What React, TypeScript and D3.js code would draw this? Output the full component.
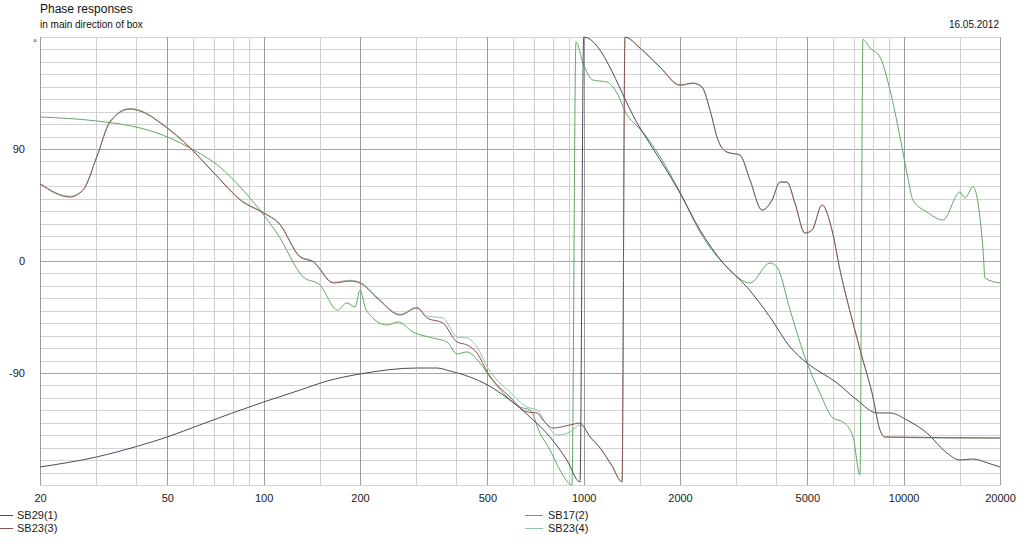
import { useRef, useEffect } from 'react';
import * as d3 from 'd3';

type Pt = [number, number]; // [frequency Hz, phase degrees]

const xTickLabels = [20, 50, 100, 200, 500, 1000, 2000, 5000, 10000, 20000];
const xGridFreqs = [
  20, 30, 40, 50, 60, 70, 80, 90, 100, 150, 200, 300, 400, 500, 600, 700, 800, 900,
  1000, 1500, 2000, 3000, 4000, 5000, 6000, 7000, 8000, 9000, 10000, 15000, 20000,
];
const yTickLabels = [90, 0, -90];

const sb29: Pt[] = [
  [20, -165.5], [30, -157.5], [40.5, -148.7], [50, -141.4], [63, -131.8], [100, -113.3],
  [130, -103.7], [158, -96.4], [200, -90.8], [300, -86], [348, -86], [382, -88.4],
  [441, -93.2], [500, -99.6], [588, -111.7], [680, -125.4], [785, -141.4], [886, -159.9],
  [974, -177.6], [1000, 180], [1500, 106.9], [2000, 54.6], [2309, 24.9], [2726, -1.6],
  [3237, -20.9], [3821, -45], [4415, -69.1], [4990, -82], [6189, -98], [7148, -111.7],
  [8254, -122.1], [9064, -122.1], [10240, -127.8], [11820, -138.2], [13650, -154.3],
  [14990, -159.9], [16470, -159.1], [18290, -162.3], [20000, -165.5],
];

const sb17: Pt[] = [
  [20, 115.7], [30.1, 112.5], [41.1, 106.9], [51, 98.8], [58.9, 90.8], [73, 75.5],
  [86.1, 57.1], [100, 37], [110, 22.5], [133, -12.9], [150, -19.3], [170, -39.4],
  [182, -33.7], [193, -37], [200, -23.3], [209, -39.4], [243, -51.4], [263, -49],
  [293, -57.1], [338, -61.9], [374, -65.1], [402, -74.7], [432, -73.1], [474, -82],
  [510, -93.2], [576, -109.3], [632, -117.3], [680, -119.7], [730, -138.2], [785, -151.9],
  [843, -167.9], [919, -180], [946, 176], [995, 159.1], [1069, 145.4], [1182, 143.8],
  [1271, 135], [1366, 117.3], [1426, 111.7], [1500, 106.1], [2000, 55.4], [2309, 23.3],
  [2805, -4.8], [3310, -17.7], [3821, -1.6], [4018, -4.8], [4415, -39.4], [4990, -82],
  [5477, -106.1], [6012, -126.2], [6464, -129.4], [6946, -141.4], [7303, -172],
  [7460, 178], [7852, 171.2], [8434, 163.9], [9064, 137.4], [9740, 99.6], [10240, 70.7],
  [10690, 49], [11820, 39.4], [13270, 32.9], [14990, 55.4], [15530, 50.6], [16470, 59.5],
  [16950, 51.4], [17700, 8.8], [17960, -13.7], [20000, -17.7],
];

const sb23a: Pt[] = [
  [20, 61.9], [24.8, 51.4], [27.3, 57.1], [30.1, 83.6], [33.1, 111.7], [38.2, 122.1],
  [41.1, 120.5], [48.5, 109.3], [58.9, 90.8], [69.4, 71.5], [86.1, 47.4], [100, 38.6],
  [112, 29.7], [130, 3.2], [143, -0.8], [165, -17.7], [186, -16.1], [200, -17.7],
  [226, -29.7], [267, -43.4], [301, -37.8], [324, -45.8], [363, -49.8], [402, -65.1],
  [432, -67.5], [464, -73.9], [502, -90], [588, -109.3], [665, -121.3], [715, -122.1],
  [746, -127.8], [802, -134.2], [906, -131.8], [974, -130.2], [1047, -141.4], [1125, -150.3],
  [1226, -164.7], [1318, -177.6], [1346, 180], [1500, 171.2], [1732, 155.9], [2000, 141.4],
  [2196, 143], [2344, 139.8], [2482, 121.3], [2629, 97.2], [2805, 87.6], [3080, 85.2],
  [3310, 65.1], [3609, 41], [3879, 49], [4107, 63.5], [4317, 63.5], [4574, 46.6],
  [4913, 22.5], [5171, 24.9], [5558, 45], [5970, 24.9], [6325, -7.2], [6946, -49.8],
  [7460, -79.6], [7967, -106.1], [8434, -135.8], [8743, -141.4], [20000, -142.2],
];

const sb23b: Pt[] = [
  [20, 62.5], [24.8, 52], [27.3, 57.5], [30.1, 84.2], [33.1, 112.3], [38.2, 122.6],
  [41.1, 121], [48.5, 109.8], [58.9, 91.2], [69.4, 72], [86.1, 47.9], [100, 39],
  [112, 30.2], [130, 3.8], [143, -0.2], [165, -17], [186, -15.5], [200, -17],
  [226, -29], [267, -42.8], [301, -37], [324, -44.2], [363, -45.8], [402, -61.1],
  [432, -61.9], [464, -69.1], [502, -86], [588, -105.3], [665, -117.3], [715, -119.7],
  [768, -131.8], [826, -139.8], [906, -137.4], [974, -131.8], [1047, -141], [1125, -150],
  [1226, -164.3], [1318, -177.3], [1346, 179.6], [1500, 170.8], [1732, 155.5], [2000, 141],
  [2196, 142.6], [2344, 139.4], [2482, 121], [2629, 97], [2805, 87.3], [3080, 84.9],
  [3310, 64.8], [3609, 40.7], [3879, 48.7], [4107, 63.2], [4317, 63.2], [4574, 46.3],
  [4913, 22.2], [5171, 24.6], [5558, 44.7], [5970, 24.6], [6325, -7.5], [6946, -50.1],
  [7460, -79.9], [7967, -106.4], [8434, -136.1], [8743, -141.7], [20000, -142.5],
];

const seriesNames = ['SB29(1)', 'SB23(3)', 'SB17(2)', 'SB23(4)'];
const seriesColors = ['#4b4b5c', '#8c4f4f', '#62a862', '#8fc7a6'];

export default function App() {
  const d3Container = useRef<SVGSVGElement>(null);

  useEffect(() => {
    if (!d3Container.current) return;
    const svg = d3.select(d3Container.current);
    svg.selectAll('*').remove();

    const width = 1024;
    const height = 543;
    const margin = { top: 37, right: 24, bottom: 58, left: 40 };
    const font = 'Arial, "Liberation Sans", sans-serif';

    const x = d3.scaleLog().domain([20, 20000]).range([margin.left, width - margin.right]);
    const y = d3.scaleLinear().domain([-180, 180]).range([height - margin.bottom, margin.top]);

    // grid
    const grid = svg.append('g').attr('shape-rendering', 'crispEdges');
    grid.selectAll('line.h')
      .data(d3.range(-180, 181, 10))
      .join('line')
      .attr('x1', margin.left)
      .attr('x2', width - margin.right)
      .attr('y1', d => Math.round(y(d)) + 0.5)
      .attr('y2', d => Math.round(y(d)) + 0.5)
      .style('stroke', d => (d % 90 === 0 && Math.abs(d) !== 180 ? '#a4a4a4' : '#d3d3d3'));

    grid.selectAll('line.v')
      .data(xGridFreqs)
      .join('line')
      .attr('x1', d => Math.round(x(d)) + 0.5)
      .attr('x2', d => Math.round(x(d)) + 0.5)
      .attr('y1', margin.top)
      .attr('y2', height - margin.bottom)
      .style('stroke', d => (xTickLabels.includes(d) ? '#9c9c9c' : '#d0d0d0'));

    // curves
    const line = d3.line<Pt>()
      .x(d => x(d[0]))
      .y(d => y(d[1]))
      .curve(d3.curveMonotoneX);

    const drawOrder: [Pt[], string][] = [
      [sb23b, seriesColors[3]],
      [sb17, seriesColors[2]],
      [sb29, seriesColors[0]],
      [sb23a, seriesColors[1]],
    ];
    drawOrder.forEach(([data, color]) => {
      svg.append('path')
        .datum(data)
        .attr('d', line)
        .style('fill', 'none')
        .style('stroke', color)
        .style('stroke-width', 1);
    });

    // axes
    const xAxis = svg.append('g')
      .attr('transform', `translate(0,${y(-180)})`)
      .call(d3.axisBottom(x).tickValues(xTickLabels).tickFormat(d => String(d)).tickSize(0).tickPadding(9));
    xAxis.select('.domain').remove();
    xAxis.selectAll('text').style('font-size', '11px').style('font-family', font).style('fill', '#1a1a1a');

    const yAxis = svg.append('g')
      .attr('transform', `translate(${margin.left},0)`)
      .call(d3.axisLeft(y).tickValues(yTickLabels).tickFormat(d => String(d)).tickSize(0).tickPadding(15));
    yAxis.select('.domain').remove();
    yAxis.selectAll('text').style('font-size', '11px').style('font-family', font).style('fill', '#1a1a1a');

    svg.append('text')
      .attr('x', 35).attr('y', 46)
      .attr('text-anchor', 'middle')
      .style('font-size', '9px').style('font-family', font)
      .text('°');

    // titles
    svg.append('text')
      .attr('x', 40).attr('y', 13)
      .style('font-size', '12px').style('font-family', font).style('fill', '#111')
      .text('Phase responses');
    svg.append('text')
      .attr('x', 40).attr('y', 28)
      .style('font-size', '10px').style('font-family', font).style('fill', '#111')
      .text('in main direction of box');
    svg.append('text')
      .attr('x', 999).attr('y', 28)
      .attr('text-anchor', 'end')
      .style('font-size', '10px').style('font-family', font).style('fill', '#111')
      .text('16.05.2012');

    // legend
    const legendPos = [[0, 515], [0, 528], [525, 515], [525, 528]];
    seriesNames.forEach((name, i) => {
      const [lx, ly] = legendPos[i];
      const g = svg.append('g').attr('transform', `translate(${lx},${ly})`);
      g.append('line')
        .attr('x1', 0).attr('x2', lx === 0 ? 13 : 18)
        .attr('y1', 0.5).attr('y2', 0.5)
        .style('stroke', seriesColors[i])
        .style('stroke-width', 1);
      g.append('text')
        .attr('x', lx === 0 ? 17 : 23)
        .attr('y', 4)
        .style('font-size', '11px').style('font-family', font).style('fill', '#1a1a1a')
        .text(name);
    });
  }, []);

  return (
    <svg
      ref={d3Container}
      width={1024}
      height={543}
      style={{ position: 'absolute', left: 0, top: 0, background: '#fff' }}
    />
  );
}
